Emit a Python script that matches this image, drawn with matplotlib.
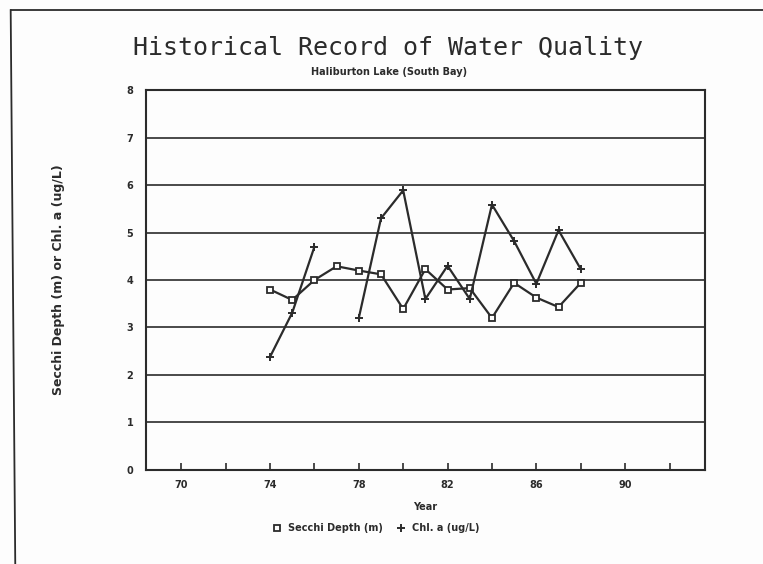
import matplotlib.pyplot as plt
import numpy as np
from matplotlib.lines import Line2D

years = [74, 75, 76, 77, 78, 79, 80, 81, 82, 83, 84, 85, 86, 87, 88]
secchi = [3.80, 3.58, 4.00, 4.29, 4.20, 4.12, 3.39, 4.23, 3.80, 3.83, 3.20, 3.94, 3.63, 3.43, 3.94]
chl_a = [2.38, 3.31, 4.70, np.nan, 3.20, 5.30, 5.89, 3.60, 4.30, 3.60, 5.59, 4.82, 3.92, 5.05, 4.23]

x_major = [70, 74, 78, 82, 86, 90]
x_minor = [72, 76, 80, 84, 88, 92]
y_ticks = [0, 1, 2, 3, 4, 5, 6, 7, 8]

ink = "#2b2b2b"

fig = plt.figure(figsize=(7.63, 5.64), dpi=100)
fig.patch.set_facecolor("#fdfdfd")
ax = fig.add_axes([0.191, 0.167, 0.733, 0.673])
ax.set_facecolor("#fdfdfd")

# page frame from the scanned sheet
fig.add_artist(Line2D([0.014, 1.0], [0.982, 0.982], color=ink, lw=1.3))
fig.add_artist(Line2D([0.014, 0.020], [0.982, 0.0], color=ink, lw=1.3))

for yv in y_ticks[1:-1]:
    ax.axhline(yv, color=ink, lw=1.2, zorder=1)

ax.plot(years, secchi, color=ink, lw=1.6, marker="s", ms=5,
        mfc="#fdfdfd", mec=ink, mew=1.3, zorder=3)
ax.plot(years, chl_a, color=ink, lw=1.6, marker="+", ms=6, mew=1.4, zorder=3)

ax.set_xlim(68.4, 93.6)
ax.set_ylim(0, 8)
ax.set_xticks(x_major)
ax.set_xticks(x_minor, minor=True)
ax.set_yticks(y_ticks)
ax.tick_params(axis="x", which="both", direction="in", length=5, width=1.2,
               colors=ink, labelsize=7, pad=7)
ax.tick_params(axis="y", length=0, labelsize=7, colors=ink, pad=9)
for lab in ax.get_xticklabels() + ax.get_yticklabels():
    lab.set_fontweight("bold")
for sp in ax.spines.values():
    sp.set_linewidth(1.5)
    sp.set_color(ink)

ax.set_xlabel("Year", fontsize=7, fontweight="bold", color=ink, labelpad=9)
ax.set_ylabel("Secchi Depth (m) or Chl. a (ug/L)", fontsize=9,
              fontweight="bold", color=ink, labelpad=44)

fig.text(0.508, 0.915, "Historical Record of Water Quality", ha="center",
         va="center", fontsize=18, family="DejaVu Sans Mono", color=ink)
fig.text(0.51, 0.872, "Haliburton Lake (South Bay)", ha="center", va="center",
         fontsize=7, fontweight="bold", color=ink)

handles = [
    Line2D([], [], ls="none", marker="s", ms=5, mfc="#fdfdfd", mec=ink, mew=1.3),
    Line2D([], [], ls="none", marker="+", ms=6, mew=1.4, color=ink),
]
fig.legend(handles, ["Secchi Depth (m)", "Chl. a (ug/L)"], loc="center",
           bbox_to_anchor=(0.492, 0.064), ncol=2, frameon=False,
           prop={"size": 7, "weight": "bold"}, handletextpad=0.6,
           handlelength=1.2, columnspacing=1.2, labelcolor=ink)

fig.savefig("out.png", dpi=100, facecolor=fig.get_facecolor())
